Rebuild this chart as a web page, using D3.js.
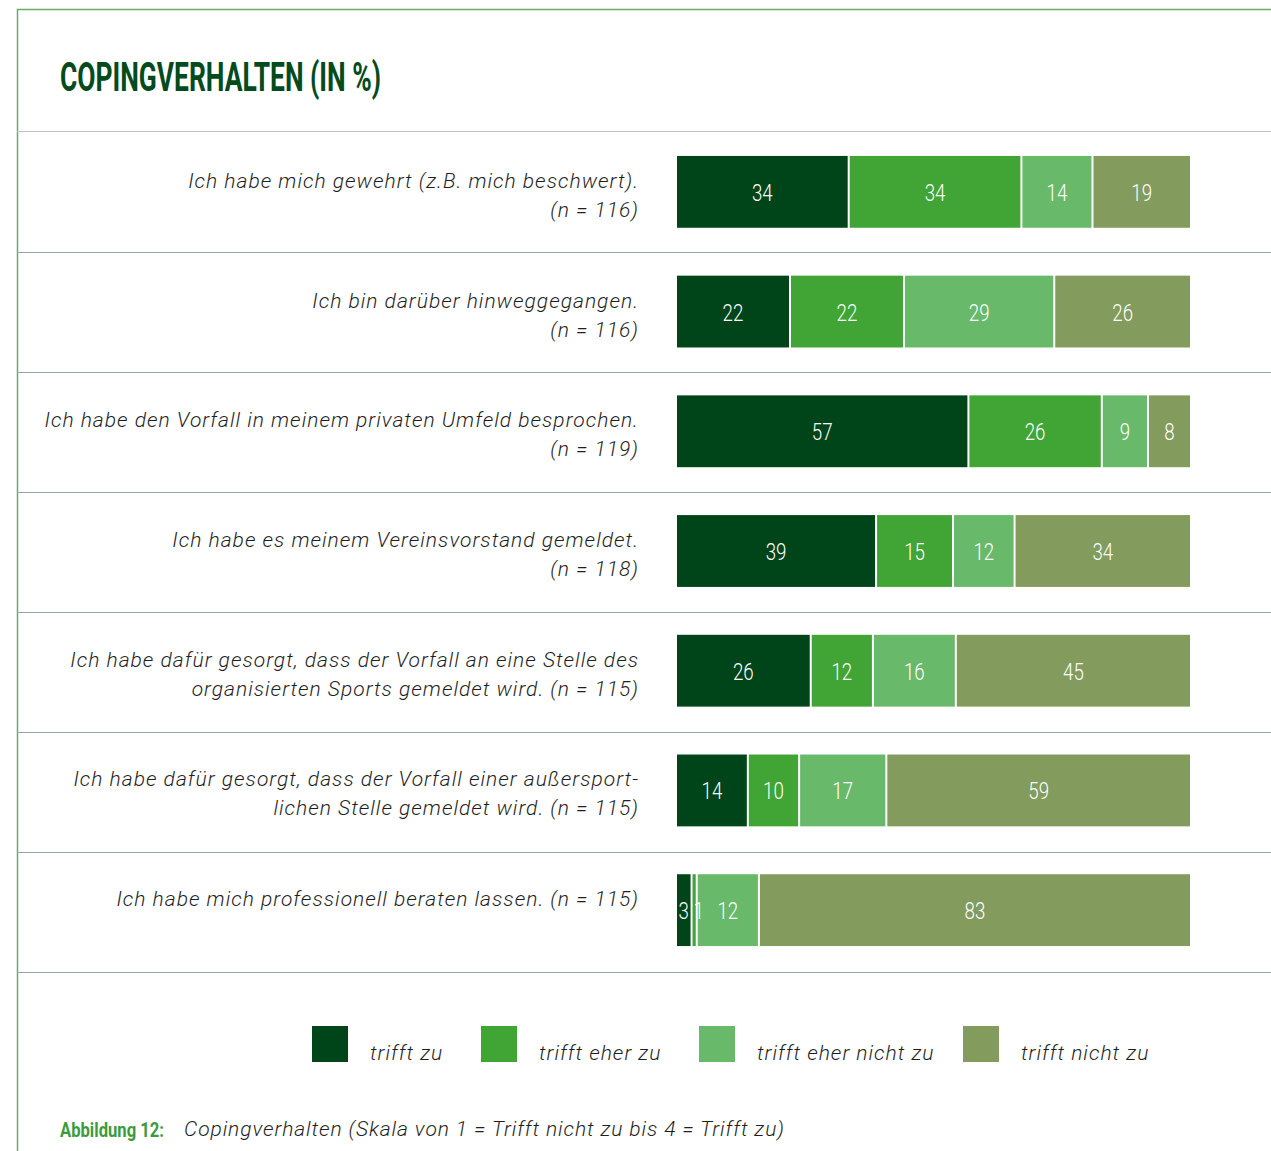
<!DOCTYPE html>
<html lang="de">
<head>
<meta charset="utf-8">
<script src="https://cdn.jsdelivr.net/npm/d3@7"></script>
<style>
  html, body { margin: 0; padding: 0; background: #fff; }
  svg { display: block; }
</style>
</head>
<body>
<svg id="chart" width="1271" height="1151"></svg>
<script>
// Statements (each entry is a list of text lines) and sample sizes
const statements = [
  ["Ich habe mich gewehrt (z.B. mich beschwert).", "(n = 116)"],
  ["Ich bin darüber hinweggegangen.", "(n = 116)"],
  ["Ich habe den Vorfall in meinem privaten Umfeld besprochen.", "(n = 119)"],
  ["Ich habe es meinem Vereinsvorstand gemeldet.", "(n = 118)"],
  ["Ich habe dafür gesorgt, dass der Vorfall an eine Stelle des", "organisierten Sports gemeldet wird.  (n = 115)"],
  ["Ich habe dafür gesorgt, dass der Vorfall einer außersport-", "lichen Stelle gemeldet wird.  (n = 115)"],
  ["Ich habe mich professionell beraten lassen.  (n = 115)"]
];

// Answer categories
const answers = ["trifft zu", "trifft eher zu", "trifft eher nicht zu", "trifft nicht zu"];

// Percentages per answer category, one value per statement
const triffZu          = [34, 22, 57, 39, 26, 14, 3];
const triffEherZu      = [34, 22, 26, 15, 12, 10, 1];
const triffEherNichtZu = [14, 29,  9, 12, 16, 17, 12];
const triffNichtZu     = [19, 26,  8, 34, 45, 59, 83];

const title = "COPINGVERHALTEN (IN %)";
const captionLabel = "Abbildung 12:";
const captionText = "Copingverhalten (Skala von 1 = Trifft nicht zu bis 4 = Trifft zu)";

const colors = ["#004519", "#41a535", "#69b96b", "#839b5d"];

// Build rows for the stack
const series = [triffZu, triffEherZu, triffEherNichtZu, triffNichtZu];
const rows = statements.map((s, i) => {
  const r = { idx: i };
  answers.forEach((a, k) => { r[a] = series[k][i]; });
  return r;
});

// Each row is scaled to the full bar width
const stack = d3.stack()
  .keys(answers)
  .offset(d3.stackOffsetExpand);
const stacked = stack(rows);

const svg = d3.select("#chart");

const x = d3.scaleLinear().domain([0, 1]).range([677, 1190]);
const y = d3.scaleBand()
  .domain(d3.range(statements.length))
  .range([132, 970])
  .paddingInner(0.4)
  .paddingOuter(0.2);

const color = d3.scaleOrdinal().domain(answers).range(colors);

const textFont = "Roboto";
const textColor = "#1f1f1f";

// Frame: green top and left border
svg.append("line").attr("x1", 17).attr("x2", 1271).attr("y1", 9.5).attr("y2", 9.5)
  .attr("stroke", "#6aab6a").attr("stroke-width", 1.5);
svg.append("line").attr("x1", 17.5).attr("x2", 17.5).attr("y1", 9).attr("y2", 1151)
  .attr("stroke", "#6aab6a").attr("stroke-width", 1.5);

// Title
svg.append("text")
  .attr("x", 60).attr("y", 91)
  .attr("font-family", textFont)
  .attr("font-weight", 700)
  .attr("font-size", 41)
  .attr("fill", "#034a1d")
  .attr("textLength", 321)
  .attr("lengthAdjust", "spacingAndGlyphs")
  .text(title);

// Row separators
const sepY = [131, 252, 372, 492, 612, 732, 852, 972];
svg.append("g").selectAll("line").data(sepY).join("line")
  .attr("x1", 17).attr("x2", 1271)
  .attr("y1", d => d + 0.5).attr("y2", d => d + 0.5)
  .attr("stroke", (d, i) => i === 0 ? "#bfc5c4" : "#98a6a1")
  .attr("stroke-width", 1.2);

// Statement labels
const labelG = svg.append("g")
  .attr("font-family", textFont)
  .attr("font-style", "italic")
  .attr("font-weight", 300)
  .attr("font-size", 21)
  .attr("letter-spacing", 1)
  .attr("fill", textColor)
  .attr("text-anchor", "end");

statements.forEach((lines, i) => {
  const cy = y(i) + y.bandwidth() / 2;
  const t = labelG.append("text");
  lines.forEach((ln, j) => {
    t.append("tspan").attr("x", 639).attr("y", cy - 4 + j * 29).text(ln);
  });
});

// Bars
const segEnd = d => x(d[1]) - (d[1] >= 0.9999 ? 0 : 2);

svg.append("g").selectAll("g").data(stacked).join("g")
  .attr("fill", d => color(d.key))
  .selectAll("rect").data(d => d).join("rect")
  .attr("x", d => x(d[0]))
  .attr("y", (d, i) => y(i))
  .attr("height", y.bandwidth())
  .attr("width", d => Math.max(0, segEnd(d) - x(d[0])));

// Label centres per row; very narrow neighbours are pushed apart so digits don't collide
const minGap = 15;
const labelX = rows.map((r, i) => {
  const xs = stacked.map(s => (x(s[i][0]) + segEnd(s[i])) / 2);
  for (let k = 1; k < xs.length; k++) {
    if (xs[k] - xs[k - 1] < minGap) xs[k] = xs[k - 1] + minGap;
  }
  return xs;
});

// Value labels (narrow digits), drawn above all bar segments
svg.append("g")
  .attr("text-anchor", "middle")
  .attr("font-family", textFont)
  .attr("font-weight", 300)
  .attr("font-size", 24)
  .attr("fill", "#ffffff")
  .selectAll("g").data(stacked).join("g")
  .each(function(s, k) {
    d3.select(this).selectAll("text").data(s).join("text")
      .attr("transform", (d, i) =>
        `translate(${labelX[i][k]},${y(i) + y.bandwidth() / 2 + 9}) scale(0.78,1)`)
      .text(d => d.data[s.key]);
  });

// Legend
const legendX = [312, 481, 699, 963];
const legend = svg.append("g").selectAll("g").data(answers).join("g")
  .attr("transform", (d, i) => `translate(${legendX[i]},1026)`);
legend.append("rect")
  .attr("width", 36).attr("height", 36)
  .attr("fill", d => color(d));
legend.append("text")
  .attr("x", 58).attr("y", 34)
  .attr("font-family", textFont)
  .attr("font-style", "italic")
  .attr("font-weight", 300)
  .attr("font-size", 21)
  .attr("letter-spacing", 1)
  .attr("fill", textColor)
  .text(d => d);

// Caption
svg.append("text")
  .attr("x", 60).attr("y", 1137)
  .attr("font-family", textFont)
  .attr("font-weight", 700)
  .attr("font-size", 21)
  .attr("fill", "#3c9b3c")
  .attr("textLength", 104)
  .attr("lengthAdjust", "spacingAndGlyphs")
  .text(captionLabel);
svg.append("text")
  .attr("x", 184).attr("y", 1136)
  .attr("font-family", textFont)
  .attr("font-style", "italic")
  .attr("font-weight", 300)
  .attr("font-size", 21)
  .attr("letter-spacing", 0.9)
  .attr("fill", textColor)
  .text(captionText);
</script>
</body>
</html>
